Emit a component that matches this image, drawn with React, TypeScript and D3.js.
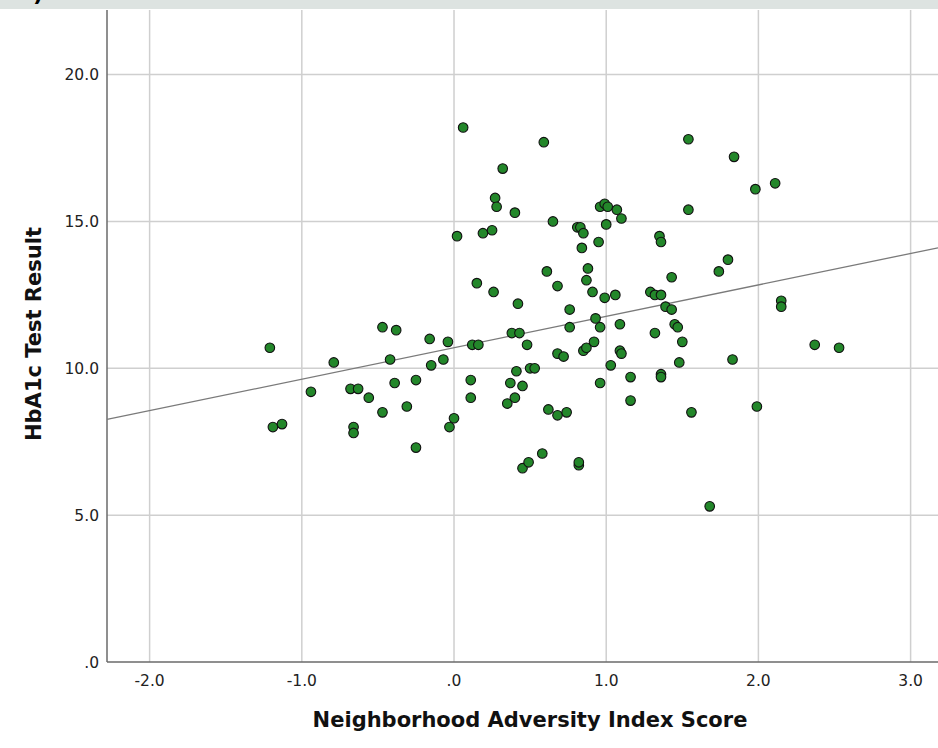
import * as d3 from 'd3';

// Neighborhood Adversity Index Score (x) and HbA1c Test Result (y)
const adversity = [
  -1.21, -1.19, -1.13, -0.94, -0.79, -0.68, -0.63, -0.66, -0.66, -0.56,
  -0.47, -0.47, -0.42, -0.38, -0.39, -0.31, -0.25, -0.25, -0.15, -0.16,
  -0.07, -0.04, -0.03, 0.0, 0.02, 0.06, 0.12, 0.11, 0.11, 0.15,
  0.16, 0.19, 0.25, 0.26, 0.27, 0.28, 0.32, 0.35, 0.37, 0.38,
  0.4, 0.4, 0.41, 0.42, 0.43, 0.45, 0.45, 0.48, 0.49, 0.5,
  0.53, 0.58, 0.59, 0.61, 0.62, 0.65, 0.68, 0.68, 0.68, 0.72,
  0.74, 0.76, 0.76, 0.81, 0.83, 0.82, 0.82, 0.84, 0.85, 0.85,
  0.87, 0.87, 0.88, 0.91, 0.92, 0.93, 0.95, 0.96, 0.96, 0.96,
  0.99, 0.99, 1.0, 1.01, 1.03, 1.06, 1.07, 1.09, 1.09, 1.1,
  1.1, 1.16, 1.16, 1.29, 1.32, 1.32, 1.36, 1.36, 1.35, 1.36,
  1.36, 1.39, 1.43, 1.43, 1.45, 1.47, 1.48, 1.5, 1.54, 1.54,
  1.56, 1.68, 1.74, 1.8, 1.83, 1.84, 1.98, 1.99, 2.11, 2.15,
  2.15, 2.37, 2.53,
];

const hba1c = [
  10.7, 8.0, 8.1, 9.2, 10.2, 9.3, 9.3, 8.0, 7.8, 9.0,
  11.4, 8.5, 10.3, 11.3, 9.5, 8.7, 9.6, 7.3, 10.1, 11.0,
  10.3, 10.9, 8.0, 8.3, 14.5, 18.2, 10.8, 9.6, 9.0, 12.9,
  10.8, 14.6, 14.7, 12.6, 15.8, 15.5, 16.8, 8.8, 9.5, 11.2,
  15.3, 9.0, 9.9, 12.2, 11.2, 6.6, 9.4, 10.8, 6.8, 10.0,
  10.0, 7.1, 17.7, 13.3, 8.6, 15.0, 12.8, 10.5, 8.4, 10.4,
  8.5, 12.0, 11.4, 14.8, 14.8, 6.7, 6.8, 14.1, 14.6, 10.6,
  10.7, 13.0, 13.4, 12.6, 10.9, 11.7, 14.3, 11.4, 9.5, 15.5,
  15.6, 12.4, 14.9, 15.5, 10.1, 12.5, 15.4, 11.5, 10.6, 15.1,
  10.5, 9.7, 8.9, 12.6, 11.2, 12.5, 9.8, 9.7, 14.5, 14.3,
  12.5, 12.1, 12.0, 13.1, 11.5, 11.4, 10.2, 10.9, 17.8, 15.4,
  8.5, 5.3, 13.3, 13.7, 10.3, 17.2, 16.1, 8.7, 16.3, 12.3,
  12.1, 10.8, 10.7,
];

const xTicks = [-2, -1, 0, 1, 2, 3];
const yTicks = [0, 5, 10, 15, 20];

// fit line
const fitIntercept = 10.7;
const fitSlope = 1.07;

const W = 938;
const H = 748;
const left = 107;
const right = 938;
const top = 10;
const bottom = 662;

const fmt = (v: number) => {
  const s = d3.format('.1f')(Math.abs(v)).replace(/^0\./, '.');
  return v < 0 ? '-' + s : s;
};

export default function App() {
  const x = d3.scaleLinear().domain([-2.28, 3.18]).range([left, right]);
  const y = d3.scaleLinear().domain([0, 22.2]).range([bottom, top]);

  const points = adversity.map((a, i) => ({ a, h: hba1c[i] }));
  const [x0, x1] = x.domain();
  const fit = d3.line<number>()
    .x(d => x(d))
    .y(d => y(fitIntercept + fitSlope * d));

  const tickFont = 'DejaVu Sans, sans-serif';

  return (
    <svg width={W} height={H} style={{ position: 'absolute', left: 0, top: 0, background: '#fff' }}>
      <rect x={0} y={0} width={W} height={9} fill="#dde3e1" />
      <text x={33} y={1} fontSize={22} fontWeight="bold" fontFamily={tickFont}>)</text>

      {/* grid */}
      {xTicks.map(t => (
        <line key={'gx' + t} x1={x(t)} x2={x(t)} y1={top} y2={bottom} stroke="#cfcfcf" strokeWidth={1.5} />
      ))}
      {yTicks.filter(t => t > 0).map(t => (
        <line key={'gy' + t} x1={left} x2={right} y1={y(t)} y2={y(t)} stroke="#cfcfcf" strokeWidth={1.5} />
      ))}

      {/* axes */}
      <line x1={left} x2={left} y1={top} y2={bottom} stroke="#6a6a6a" strokeWidth={1.5} />
      <line x1={left} x2={right} y1={bottom} y2={bottom} stroke="#6a6a6a" strokeWidth={1.5} />

      {xTicks.map(t => (
        <text key={'tx' + t} x={x(t)} y={686} textAnchor="middle" fontSize={15.5} fontFamily={tickFont} fill="#222">
          {fmt(t)}
        </text>
      ))}
      {yTicks.map(t => (
        <text key={'ty' + t} x={99} y={y(t) + 5.5} textAnchor="end" fontSize={15.5} fontFamily={tickFont} fill="#222">
          {fmt(t)}
        </text>
      ))}

      <path d={fit([x0, x1]) ?? ''} fill="none" stroke="#7a7a7a" strokeWidth={1.3} />

      {points.map((p, i) => (
        <circle key={i} cx={x(p.a)} cy={y(p.h)} r={4.8} fill="#23872a" stroke="#111" strokeWidth={1.1} />
      ))}

      <text x={530} y={727} textAnchor="middle" fontSize={21} fontWeight="bold" fontFamily={tickFont} fill="#111">
        Neighborhood Adversity Index Score
      </text>
      <text transform="translate(41,334) rotate(-90)" textAnchor="middle" fontSize={21} fontWeight="bold" fontFamily={tickFont} fill="#111">
        HbA1c Test Result
      </text>
    </svg>
  );
}
